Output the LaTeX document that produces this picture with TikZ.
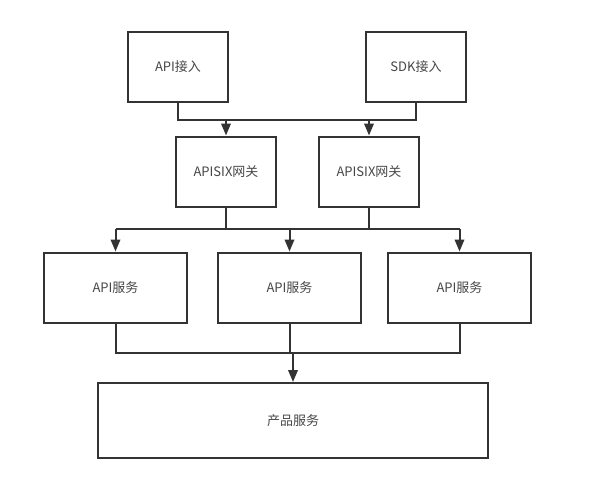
\documentclass[tikz,border=0pt]{standalone}
\usepackage{fontspec}
\setmainfont{Noto Sans CJK SC}
\usetikzlibrary{arrows.meta}
\definecolor{ink}{HTML}{333333}
\begin{document}
\begin{tikzpicture}[x=1pt,y=-1pt,
  box/.style={draw=ink,line width=2pt,rectangle,inner sep=0pt,font=\fontsize{13}{15}\selectfont,text=ink!90},
  conn/.style={draw=ink,line width=2pt},
  arr/.style={conn,-{Triangle[length=12pt,width=9.5pt]}}]
\fill[white] (0,0) rectangle (591,488);
\useasboundingbox (0,0) rectangle (591,488);
\node[box,minimum width=100pt,minimum height=70pt] (apiin) at (178,67) {API接入};
\node[box,minimum width=100pt,minimum height=70pt] (sdkin) at (416,67) {SDK接入};
\node[box,minimum width=100pt,minimum height=70pt] (gw1) at (226,171.5) {APISIX网关};
\node[box,minimum width=100pt,minimum height=70pt] (gw2) at (369,171.5) {APISIX网关};
\node[box,minimum width=143pt,minimum height=70pt] (s1) at (115.5,287.5) {API服务};
\node[box,minimum width=143pt,minimum height=70pt] (s2) at (289.5,287.5) {API服务};
\node[box,minimum width=143pt,minimum height=70pt] (s3) at (459.5,287.5) {API服务};
\node[box,minimum width=390pt,minimum height=75pt] (prod) at (293,420.5) {产品服务};
% top connectors
\coordinate (t1) at (178,120);
\coordinate (t2) at (416,120);
\draw[conn] (apiin.south) -- (t1) -- (t2) -- (sdkin.south);
\draw[arr] (gw1.north |- t1) -- (gw1.north);
\draw[arr] (gw2.north |- t1) -- (gw2.north);
% middle connectors
\coordinate (m1) at (115.5,229);
\coordinate (m2) at (459.5,229);
\draw[conn] (gw1.south) -- (gw1.south |- m1);
\draw[conn] (gw2.south) -- (gw2.south |- m1);
\draw[conn] (m1) -- (m2);
\draw[arr] (m1) -- (s1.north);
\draw[arr] (s2.north |- m1) -- (s2.north);
\draw[arr] (m2) -- (s3.north);
% bottom connectors
\coordinate (b1) at (115.5,353);
\coordinate (b2) at (459.5,353);
\draw[conn] (s1.south) -- (b1) -- (b2) -- (s3.south);
\draw[conn] (s2.south) -- (s2.south |- b1);
\draw[arr] (prod.north |- b1) -- (prod.north);
\end{tikzpicture}
\end{document}
